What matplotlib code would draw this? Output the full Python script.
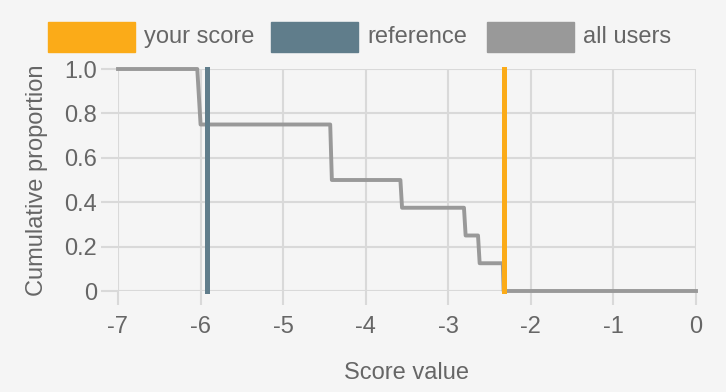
import numpy as np
import matplotlib.pyplot as plt
from matplotlib.patches import Rectangle

plt.rcParams['font.family'] = ['Liberation Sans', 'DejaVu Sans']

# cumulative proportion of all users (step curve, x from -7 to 0)
step_x = [-7.0, -6.04, -6.0, -4.43, -4.41, -3.58, -3.56, -2.81, -2.79, -2.64, -2.62, -2.34, -2.33, 0.0]
step_y = [1.0, 1.0, 0.75, 0.75, 0.5, 0.5, 0.375, 0.375, 0.25, 0.25, 0.125, 0.125, 0.0, 0.0]

your_score = -2.33
reference_score = -5.92

xticks = [-7, -6, -5, -4, -3, -2, -1, 0]
yticks = [0, 0.2, 0.4, 0.6, 0.8, 1.0]
ytick_labels = ['0', '0.2', '0.4', '0.6', '0.8', '1.0']

bg = '#f5f5f5'
grid_c = '#d9d9d9'
text_c = '#666666'
orange = '#fbab18'
blue = '#607d8b'
gray = '#999999'
fs = 17

fig = plt.figure(figsize=(7.26, 3.92), dpi=100, facecolor=bg)
ax = fig.add_axes([118/726, 1 - 291/392, 578/726, 222/392])
ax.set_facecolor(bg)

ax.plot(step_x, step_y, color=gray, lw=2.8, clip_on=False, zorder=3)
ax.plot([reference_score, reference_score], [0, 1], color=blue, lw=3.6, clip_on=False, zorder=4)
ax.plot([your_score, your_score], [0, 1], color=orange, lw=3.6, clip_on=False, zorder=4)

ax.set_xlim(-7, 0)
ax.set_ylim(0, 1)
ax.set_xticks(xticks)
ax.set_xticklabels([str(t) for t in xticks])
ax.set_yticks(yticks)
ax.set_yticklabels(ytick_labels)
ax.grid(True, color=grid_c, lw=1.5, zorder=0)
for s in ax.spines.values():
    s.set_visible(False)
ax.tick_params(axis='x', length=10, width=1.5, color=grid_c, pad=8,
               labelsize=fs, labelcolor=text_c)
ax.tick_params(axis='y', length=12, width=1.5, color=grid_c, pad=3,
               labelsize=fs, labelcolor=text_c)
ax.set_xlabel('Score value', fontsize=fs, color=text_c, labelpad=17)
ax.set_ylabel('Cumulative proportion', fontsize=fs, color=text_c, labelpad=12)

# legend across the top
legend_items = [('your score', orange, 48), ('reference', blue, 271), ('all users', gray, 487)]
for label, col, x0 in legend_items:
    fig.add_artist(Rectangle((x0/726, 1 - 52/392), 87/726, 30/392,
                             transform=fig.transFigure, color=col))
    fig.text((x0 + 96)/726, 1 - 37/392, label, fontsize=fs, color=text_c,
             va='center', ha='left')

plt.savefig('out.png', dpi=100, facecolor=bg)
